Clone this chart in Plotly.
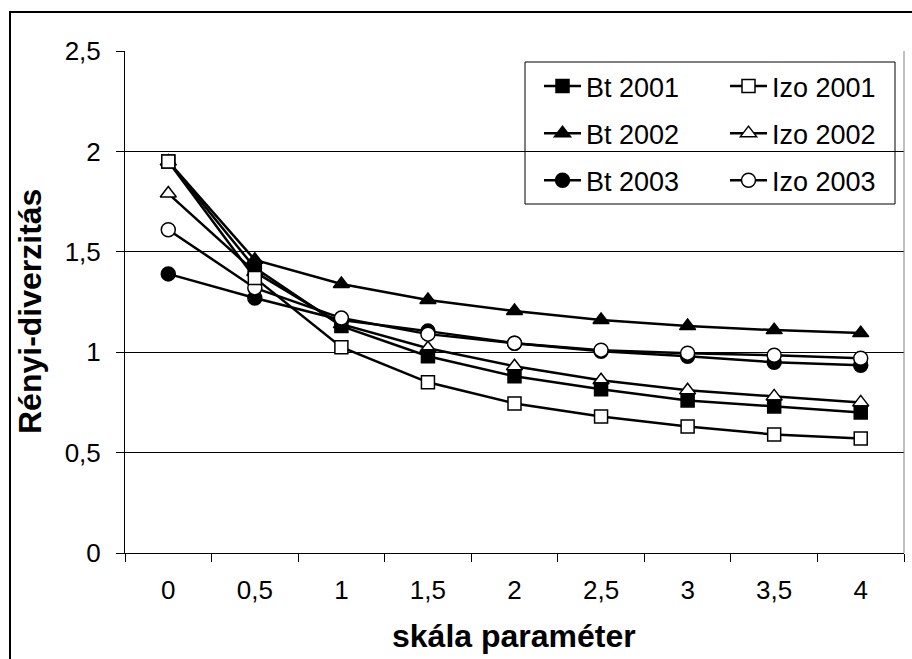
import plotly.graph_objects as go

categories = ["0", "0,5", "1", "1,5", "2", "2,5", "3", "3,5", "4"]

bt_2001 = [1.95, 1.42, 1.13, 0.98, 0.88, 0.815, 0.76, 0.73, 0.70]
bt_2002 = [1.95, 1.46, 1.34, 1.26, 1.205, 1.16, 1.13, 1.11, 1.095]
bt_2003 = [1.39, 1.27, 1.16, 1.105, 1.045, 1.005, 0.98, 0.95, 0.935]
izo_2001 = [1.95, 1.37, 1.025, 0.85, 0.745, 0.68, 0.63, 0.59, 0.57]
izo_2002 = [1.79, 1.40, 1.14, 1.02, 0.93, 0.86, 0.81, 0.78, 0.75]
izo_2003 = [1.61, 1.32, 1.17, 1.09, 1.045, 1.01, 0.995, 0.985, 0.97]

y_ticks = [0, 0.5, 1, 1.5, 2, 2.5]
y_tick_text = ["0", "0,5", "1", "1,5", "2", "2,5"]

FONT = "Liberation Sans, Arial, sans-serif"

W, H = 912, 659
L, R, T, B = 125, 8, 51, 106
PW, PH = W - L - R, H - T - B


def px_x(x):
    return (x - L) / PW


def px_y(y):
    return (H - B - y) / PH


series = [
    ("Izo 2002", izo_2002, "triangle-up", "white", "legend2"),
    ("Bt 2001", bt_2001, "square", "black", "legend"),
    ("Bt 2002", bt_2002, "triangle-up", "black", "legend"),
    ("Bt 2003", bt_2003, "circle", "black", "legend"),
    ("Izo 2003", izo_2003, "circle", "white", "legend2"),
    ("Izo 2001", izo_2001, "square", "white", "legend2"),
]
legend_rank = {"Bt 2001": 1, "Bt 2002": 2, "Bt 2003": 3,
               "Izo 2001": 1, "Izo 2002": 2, "Izo 2003": 3}

fig = go.Figure()
for name, vals, sym, fill, leg in series:
    size = 13 if sym == "square" else 14
    fig.add_trace(go.Scatter(
        x=categories, y=vals, name=name, mode="lines+markers",
        line=dict(color="black", width=2.5),
        marker=dict(symbol=sym, size=size, color=fill,
                    line=dict(color="black", width=1.5)),
        legend=leg, legendrank=legend_rank[name], legendgroup=name,
    ))

leg_common = dict(xanchor="left", yanchor="top",
                  bgcolor="rgba(0,0,0,0)", borderwidth=0,
                  font=dict(size=27, family=FONT), tracegroupgap=9,
                  itemwidth=37)

fig.update_layout(
    width=W, height=H,
    margin=dict(l=L, r=R, t=T, b=B),
    paper_bgcolor="white", plot_bgcolor="white",
    font=dict(family=FONT, color="black", size=26),
    showlegend=True,
    legend=dict(x=px_x(539), y=px_y(62), **leg_common),
    legend2=dict(x=px_x(725), y=px_y(62), **leg_common),
    xaxis=dict(
        type="category", range=[-0.5, 8.5], showgrid=False,
        tickson="boundaries", ticks="outside", ticklen=8, tickwidth=1,
        tickcolor="black", showline=True, linecolor="black", linewidth=1,
        tickfont=dict(size=26, family=FONT), zeroline=False,
        ticklabelstandoff=14,
    ),
    yaxis=dict(
        range=[0, 2.5], tickvals=y_ticks, ticktext=y_tick_text,
        showgrid=True, gridcolor="black", gridwidth=1,
        ticks="outside", ticklen=8, tickwidth=1, tickcolor="black",
        showline=True, linecolor="black", linewidth=1,
        tickfont=dict(size=26, family=FONT), zeroline=False,
        ticklabelstandoff=10,
    ),
    shapes=[
        dict(type="line", xref="paper", yref="paper", x0=1, x1=1, y0=0, y1=1,
             line=dict(color="#808080", width=1)),
        dict(type="rect", xref="paper", yref="paper",
             x0=px_x(525), x1=px_x(895), y0=px_y(204), y1=px_y(62),
             line=dict(color="black", width=1), fillcolor="white", layer="below"),
        dict(type="rect", xref="paper", yref="paper",
             x0=px_x(10), x1=px_x(1000), y0=px_y(800), y1=px_y(12),
             line=dict(color="black", width=2), fillcolor="rgba(0,0,0,0)"),
    ],
    annotations=[
        dict(text="<b>skála paraméter</b>", xref="paper", yref="paper",
             x=px_x(514), y=px_y(636), xanchor="center", yanchor="middle",
             showarrow=False, font=dict(size=32, family=FONT)),
        dict(text="<b>Rényi-diverzitás</b>", xref="paper", yref="paper",
             x=px_x(30), y=px_y(312), xanchor="center", yanchor="middle",
             textangle=-90, showarrow=False, font=dict(size=32, family=FONT)),
    ],
)

fig.write_html("out.html")
